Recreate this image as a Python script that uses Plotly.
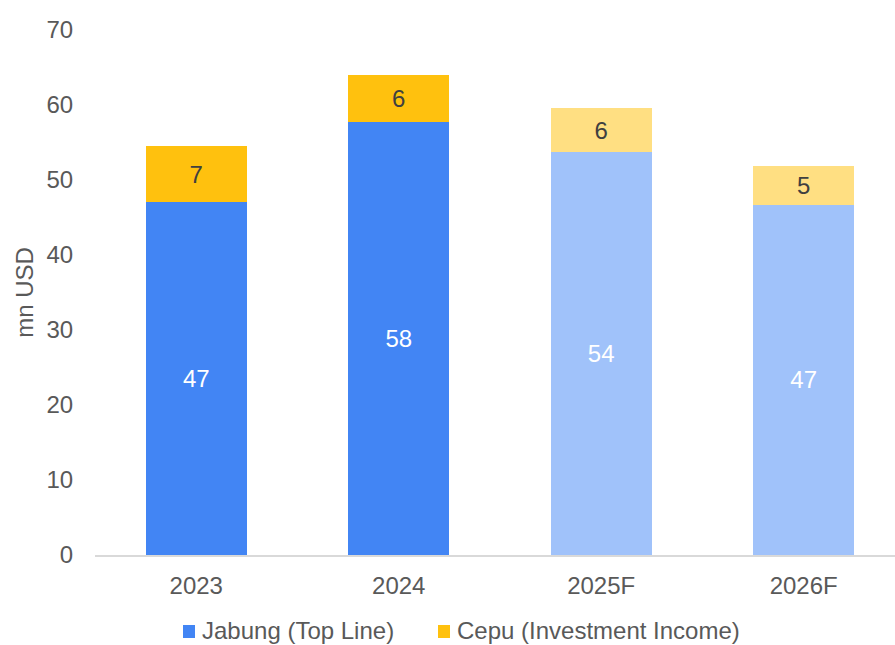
import plotly.graph_objects as go

categories = ["2023", "2024", "2025F", "2026F"]
jabung = [47.1, 57.7, 53.7, 46.7]
cepu = [7.4, 6.3, 5.9, 5.2]
jabung_colors = ["#4285F4", "#4285F4", "#A0C2FA", "#A0C2FA"]
cepu_colors = ["#FFC10E", "#FFC10E", "#FFDF82", "#FFDF82"]
y_ticks = [0, 10, 20, 30, 40, 50, 60, 70]
legend_names = ["Jabung (Top Line)", "Cepu (Investment Income)"]
legend_colors = ["#4285F4", "#FFC10E"]

FONT = "Liberation Sans, Arial, sans-serif"
GREY = "#595959"
FS = 24

W, H = 895, 645
ML, MR, MT, MB = 95, 0, 30, 90

fig = go.Figure()
fig.add_trace(go.Bar(
    x=categories, y=jabung, name=legend_names[0],
    marker=dict(color=jabung_colors, line=dict(width=0)),
    texttemplate="%{y:.0f}", textposition="inside", insidetextanchor="middle",
    textangle=0, textfont=dict(color="white", size=FS, family=FONT),
))
fig.add_trace(go.Bar(
    x=categories, y=cepu, name=legend_names[1],
    marker=dict(color=cepu_colors, line=dict(width=0)),
    texttemplate="%{y:.0f}", textposition="inside", insidetextanchor="middle",
    textangle=0, textfont=dict(color="#404040", size=FS, family=FONT),
))

# manual legend (pixel layout converted to paper coordinates)
def px_x(x):
    return (x - ML) / (W - ML - MR)

def px_y(y):
    return (H - MB - y) / (H - MT - MB)

legend_items = [(183, 200), (438, 455)]
for (sq_x, tx), name, col in zip(legend_items, legend_names, legend_colors):
    fig.add_shape(type="rect", xref="paper", yref="paper",
                  x0=px_x(sq_x), x1=px_x(sq_x + 12), y0=px_y(638), y1=px_y(625),
                  fillcolor=col, line=dict(width=0))
    fig.add_annotation(xref="paper", yref="paper", x=px_x(tx), y=px_y(630),
                       xanchor="left", yanchor="middle", text=name, showarrow=False,
                       font=dict(size=FS, color=GREY, family=FONT))

fig.update_layout(
    width=W, height=H,
    barmode="stack", bargap=0.5,
    plot_bgcolor="white", paper_bgcolor="white",
    font=dict(family=FONT, size=FS, color=GREY),
    margin=dict(l=ML, r=MR, t=MT, b=MB, autoexpand=False),
    xaxis=dict(
        range=[-0.5, 3.451], showgrid=False, showline=True, linecolor="#D9D9D9",
        linewidth=2, ticks="outside", ticklen=8, tickcolor="rgba(0,0,0,0)",
        tickfont=dict(size=FS, color=GREY),
    ),
    yaxis=dict(
        range=[0, 70], tickvals=y_ticks, showgrid=False, zeroline=False,
        showline=False, ticks="outside", ticklen=16, tickcolor="rgba(0,0,0,0)",
        tickfont=dict(size=FS, color=GREY),
        title=dict(text="mn USD", font=dict(size=FS, color=GREY), standoff=6),
    ),
    showlegend=False,
    uniformtext=dict(minsize=FS, mode="show"),
)

fig.write_html("out.html")
